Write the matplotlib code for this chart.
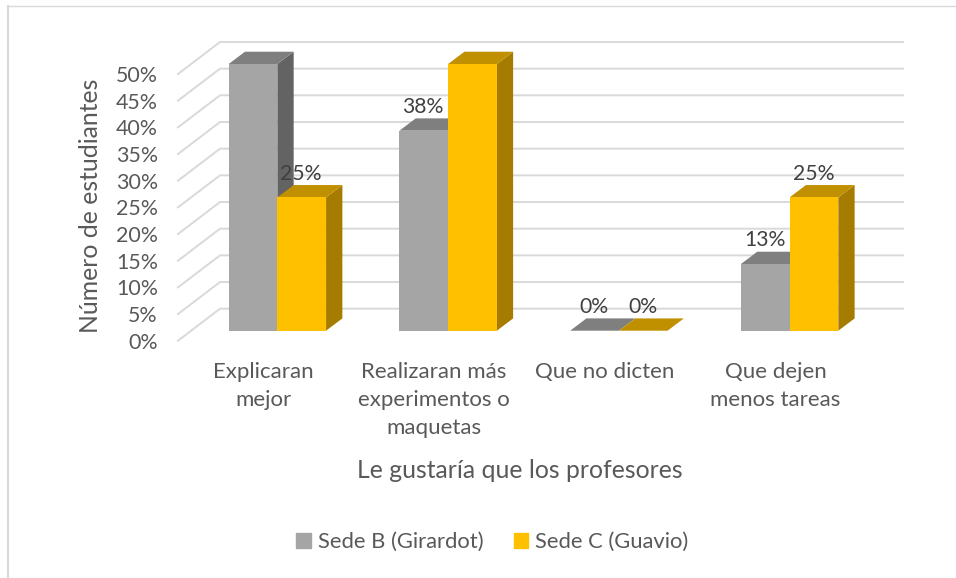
import matplotlib
matplotlib.use('Agg')
import matplotlib.pyplot as plt
from matplotlib.patches import Polygon, Rectangle

categories = ['Explicaran\nmejor', 'Realizaran más\nexperimentos o\nmaquetas',
              'Que no dicten', 'Que dejen\nmenos tareas']
sede_b = [50, 37.5, 0, 12.5]
sede_c = [25, 50, 0, 25]
labels_b = ['50%', '38%', '0%', '13%']
labels_c = ['25%', '50%', '0%', '25%']
y_ticks = [0, 5, 10, 15, 20, 25, 30, 35, 40, 45, 50]
series_names = ['Sede B (Girardot)', 'Sede C (Guavio)']

W, H = 956, 578
FONT = 'Lato'
TEXT = '#595959'
DARK = '#404040'
GRID = '#d9d9d9'

# pixel size of the plot floor, the rest is data units
X0, X1 = 178, 861
Y0, Y50 = 340.7, 74
PX_X = (X1 - X0) / 4
PX_Y = (Y0 - Y50) / 50

WALL_X = 42 / PX_X
WALL_Y = 32 / PX_Y
BAR_OFF_X = 14 / PX_X
BAR_OFF_Y = 10 / PX_Y
BAR_DEPTH_X = 16.3 / PX_X
BAR_DEPTH_Y = 12.3 / PX_Y
BAR_W = 48.7 / PX_X


def draw_bar(ax, x, value, front, top, side):
    """Front face through ax.bar, top and side as skewed polygons."""
    x = x + BAR_OFF_X
    base = BAR_OFF_Y
    dx, dy = BAR_DEPTH_X, BAR_DEPTH_Y
    ax.add_patch(Polygon([(x + BAR_W, base), (x + BAR_W + dx, base + dy),
                          (x + BAR_W + dx, base + dy + value),
                          (x + BAR_W, base + value)],
                         facecolor=side, edgecolor='none', zorder=3, clip_on=False))
    ax.add_patch(Polygon([(x, base + value), (x + BAR_W, base + value),
                          (x + BAR_W + dx, base + value + dy),
                          (x + dx, base + value + dy)],
                         facecolor=top, edgecolor='none', zorder=3, clip_on=False))
    ax.bar(x, value, BAR_W, bottom=base, align='edge', color=front,
           zorder=4, clip_on=False)


fig = plt.figure(figsize=(W / 100, H / 100), dpi=100)
ax = fig.add_axes([X0 / W, 1 - Y0 / H, (X1 - X0) / W, (Y0 - Y50) / H])
ax.set_xlim(0, 4)
ax.set_ylim(0, 50)
for s in ax.spines.values():
    s.set_visible(False)

# gridlines along the side wall and the back wall
for t in y_ticks:
    ax.plot([0, WALL_X, 4 + WALL_X], [t, t + WALL_Y, t + WALL_Y], color=GRID,
            lw=1.4, zorder=1, clip_on=False, solid_joinstyle='miter')

ax.set_yticks(y_ticks)
ax.set_yticklabels([f'{t}%' for t in y_ticks], fontsize=15.4, color=TEXT,
                   family=FONT)
ax.tick_params(axis='y', length=0, pad=14.5)
ax.set_xticks([])

for i in range(4):
    draw_bar(ax, i + 0.5 - BAR_W, sede_b[i], '#a5a5a5', '#7f7f7f', '#636363')
    draw_bar(ax, i + 0.5, sede_c[i], '#ffc000', '#c19000', '#a67c00')
    ax.annotate(labels_b[i], (i + 0.5 - BAR_W / 2 + BAR_OFF_X, sede_b[i] + BAR_OFF_Y + BAR_DEPTH_Y),
                xytext=(-0.5, 1), textcoords='offset points', ha='center', va='bottom',
                fontsize=15.2, color=DARK, family=FONT, zorder=6)
    ax.annotate(labels_c[i], (i + 0.5 + BAR_W / 2 + BAR_OFF_X, sede_c[i] + BAR_OFF_Y + BAR_DEPTH_Y),
                xytext=(-0.5, 1), textcoords='offset points', ha='center', va='bottom',
                fontsize=15.2, color=DARK, family=FONT, zorder=6)
    ax.text(i + 0.5, -3.9, categories[i], ha='center', va='top', fontsize=16,
            color=TEXT, family=FONT, linespacing=1.5)

fig.text(520 / W, 1 - 470 / H, 'Le gustaría que los profesores', ha='center', va='center',
         fontsize=17.8, color=TEXT, family=FONT)
fig.text(91 / W, 1 - 206 / H, 'Número de estudiantes', ha='center', va='center',
         rotation=90, fontsize=17.8, color=TEXT, family=FONT)

# legend
handles = [Rectangle((0, 0), 1, 1, color='#a5a5a5'), Rectangle((0, 0), 1, 1, color='#ffc000')]
leg = fig.legend(handles, series_names, loc='center', bbox_to_anchor=(492.5 / W, 1 - 542 / H),
                 ncol=2, frameon=False, handlelength=0.65, handleheight=0.65,
                 handletextpad=0.35, columnspacing=1.35,
                 prop={'family': FONT, 'size': 15.8})
for t in leg.get_texts():
    t.set_color(TEXT)

# chart border, only left and top show in the crop
fig.add_artist(plt.Line2D([8 / W, 8 / W], [0, 1 - 6 / H], color=GRID, lw=1.5))
fig.add_artist(plt.Line2D([8 / W, 1], [1 - 6 / H, 1 - 6 / H], color=GRID, lw=1))

fig.savefig('out.png', dpi=100)
